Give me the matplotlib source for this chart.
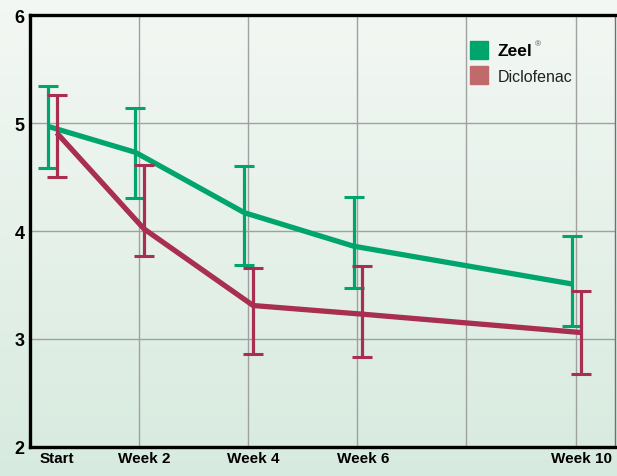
import numpy as np
import matplotlib.pyplot as plt
from matplotlib.patches import Rectangle

# data
labels = ['Start', 'Week 2', 'Week 4', 'Week 6', 'Week 10']
weeks = [0.4, 2, 4, 6, 10]

zeel_mean = [4.97, 4.73, 4.17, 3.86, 3.51]
zeel_hi = [5.34, 5.14, 4.60, 4.32, 3.95]
zeel_lo = [4.58, 4.31, 3.69, 3.47, 3.12]

diclo_mean = [4.91, 4.02, 3.31, 3.23, 3.06]
diclo_hi = [5.26, 4.61, 3.66, 3.68, 3.44]
diclo_lo = [4.50, 3.77, 2.86, 2.83, 2.68]

green = '#00a56e'
red = '#a82f50'
font = ['Liberation Sans Narrow', 'Liberation Sans', 'DejaVu Sans']

fig = plt.figure(figsize=(6.17, 4.77), dpi=100)

# gradient background
bg = fig.add_axes([0, 0, 1, 1], zorder=-10)
grad = np.linspace(0, 1, 256).reshape(-1, 1)
c_top = np.array([0.955, 0.970, 0.955])
c_bot = np.array([0.845, 0.920, 0.875])
img = c_top + (c_bot - c_top) * grad[:, :, None]
bg.imshow(img, aspect='auto', extent=[0, 1, 0, 1])
bg.axis('off')

ax = fig.add_axes([0.0486, 0.061, 0.948, 0.905])
ax.set_facecolor('none')

for w in [2, 4, 6, 8, 10]:
    ax.axvline(w, color='#a0a0a0', lw=1.0, zorder=1)
for v in [3, 4, 5]:
    ax.axhline(v, color='#a0a0a0', lw=1.0, zorder=1)

def draw(xs, mean, lo, hi, color, dx):
    x = np.array(xs) + dx
    m = np.array(mean)
    err = [m - np.array(lo), np.array(hi) - m]
    ax.plot(x, m, color=color, lw=3.8, zorder=3, solid_capstyle='butt')
    ax.errorbar(x, m, yerr=err, fmt='none', ecolor=color, elinewidth=2.3,
                capsize=7.5, capthick=2.2, zorder=4)

draw(weeks, zeel_mean, zeel_lo, zeel_hi, green, -0.07)
draw(weeks, diclo_mean, diclo_lo, diclo_hi, red, 0.09)

ax.set_xlim(0, 10.72)
ax.set_ylim(2, 6)
ax.set_xticks([w + 0.1 for w in weeks])
ax.set_xticklabels(labels, fontfamily=font, fontweight='bold', fontsize=11)
ax.set_yticks([2, 3, 4, 5, 6])
ax.set_yticklabels(['2', '3', '4', '5', '6'], fontfamily=font, fontweight='bold', fontsize=13)
ax.tick_params(length=0, pad=4)
ax.tick_params(axis='x', pad=3)

for s in ['left', 'bottom', 'top']:
    ax.spines[s].set_linewidth(2.4)
    ax.spines[s].set_color('black')
ax.spines['right'].set_linewidth(1)
ax.spines['right'].set_color('#707070')

# legend
fig.patches.append(Rectangle((470 / 617, 1 - 60 / 477), 18 / 617, 18 / 477,
                             transform=fig.transFigure, color=green))
fig.patches.append(Rectangle((470 / 617, 1 - 85 / 477), 18 / 617, 18 / 477,
                             transform=fig.transFigure, color='#c06a6c'))
fig.text(498 / 617, 1 - 52 / 477, 'Zeel', fontfamily=font, fontweight='bold',
         fontsize=12.5, va='center')
fig.text(535 / 617, 1 - 45 / 477, '®', fontfamily=font, fontsize=6,
         va='center', color='#555555')
fig.text(498 / 617, 1 - 77 / 477, 'Diclofenac', fontfamily=font,
         fontsize=11.5, va='center', color='#222222')

fig.savefig('out.png', dpi=100)
